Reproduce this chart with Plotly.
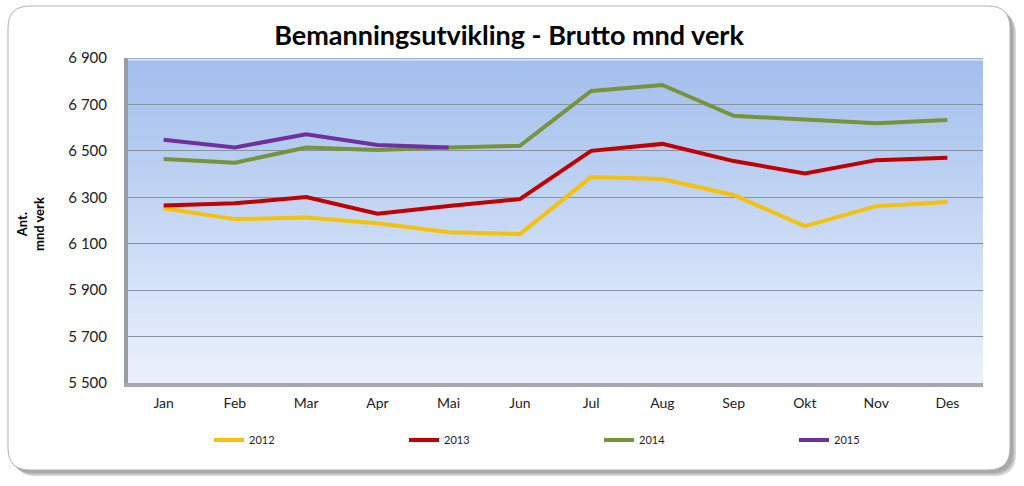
import plotly.graph_objects as go

months = ["Jan", "Feb", "Mar", "Apr", "Mai", "Jun", "Jul", "Aug", "Sep", "Okt", "Nov", "Des"]
v2012 = [6253, 6206, 6213, 6188, 6149, 6142, 6387, 6379, 6310, 6176, 6262, 6280]
v2013 = [6265, 6274, 6301, 6229, 6262, 6292, 6500, 6530, 6456, 6403, 6460, 6470]
v2014 = [6465, 6449, 6514, 6504, 6514, 6522, 6758, 6784, 6651, 6633, 6619, 6633]
v2015 = [6548, 6515, 6571, 6525, 6514]
yticks = [5500, 5700, 5900, 6100, 6300, 6500, 6700, 6900]

W, H = 1024, 486
L, R, T, B = 128, 983, 58, 383

def px(x):
    return (x - L) / (R - L)

def py(y):
    return (B - y) / (B - T)

FONT = "Lato"

fig = go.Figure()
series = [("2012", v2012, "#F4C20D"), ("2013", v2013, "#C00000"),
          ("2014", v2014, "#77933C"), ("2015", v2015, "#7030A0")]
for name, vals, col in series:
    fig.add_trace(go.Scatter(x=months[:len(vals)], y=vals, name=name, mode="lines",
                             line=dict(color=col, width=4)))

shapes = []

def rrect(x0, y0, x1, y1, r):
    rx = r / (R - L)
    ry = r / (B - T)
    a0, a1 = px(x0), px(x1)
    b0, b1 = py(y1), py(y0)  # b0 bottom, b1 top
    return (f"M {a0+rx},{b1} L {a1-rx},{b1} Q {a1},{b1} {a1},{b1-ry} "
            f"L {a1},{b0+ry} Q {a1},{b0} {a1-rx},{b0} L {a0+rx},{b0} "
            f"Q {a0},{b0} {a0},{b0+ry} L {a0},{b1-ry} Q {a0},{b1} {a0+rx},{b1} Z")

# shadow
for i, c in enumerate(["#d8d8d8", "#bcbcbc", "#a8a8a8"]):
    off = 6 - i * 1.5
    shapes.append(dict(type="path", xref="paper", yref="paper", layer="below",
                       path=rrect(8 + off, 6 + off, 1010 + off, 470 + off, 22),
                       fillcolor=c, line=dict(width=0)))
shapes.append(dict(type="path", xref="paper", yref="paper", layer="below",
                   path=rrect(8, 6, 1010, 470, 22),
                   fillcolor="white", line=dict(color="#b0b0b0", width=1)))

# plot area gradient (overlapping strips to avoid seams)
top = (162, 190, 236)
bot = (234, 241, 252)
n = 65
for i in range(n):
    t = i / (n - 1)
    c = tuple(int(round(top[k] + (bot[k] - top[k]) * t)) for k in range(3))
    shapes.append(dict(type="rect", xref="paper", yref="paper", layer="below",
                       x0=0, x1=1, y0=max(0, 1 - (i + 1.6) / n), y1=1 - i / n,
                       fillcolor=f"rgb{c}", line=dict(width=0)))
# bevel edges
shapes.append(dict(type="rect", xref="paper", yref="paper", layer="below",
                   x0=px(L - 4), x1=0, y0=py(B + 4), y1=1,
                   fillcolor="#9a9ca4", line=dict(width=0)))
shapes.append(dict(type="rect", xref="paper", yref="paper", layer="below",
                   x0=px(L - 4), x1=1, y0=py(B + 4), y1=0,
                   fillcolor="#a6a8b0", line=dict(width=0)))
shapes.append(dict(type="rect", xref="paper", yref="paper", layer="below",
                   x0=0, x1=1, y0=py(T + 3), y1=1,
                   fillcolor="#cadcf4", line=dict(width=0)))
shapes.append(dict(type="rect", xref="paper", yref="paper", layer="below",
                   x0=0, x1=1, y0=py(T + 1), y1=1,
                   fillcolor="#9fb6d8", line=dict(width=0)))

fig.update_layout(
    width=W, height=H,
    margin=dict(l=L, r=W - R, t=T, b=H - B, autoexpand=False),
    paper_bgcolor="white", plot_bgcolor="rgba(0,0,0,0)",
    separators=", ",
    shapes=shapes,
    showlegend=True,
    title=dict(text="<b>Bemanningsutvikling - Brutto mnd verk</b>", x=px(509), xanchor="center",
               xref="paper", y=1 - 36 / H, yanchor="middle",
               font=dict(family=FONT, size=27, color="black")),
    legend=dict(orientation="h", x=px(209), xanchor="left", y=py(440), yanchor="middle",
                entrywidth=150, entrywidthmode="pixels", bgcolor="rgba(0,0,0,0)",
                font=dict(family=FONT, size=11, color="#222")),
    annotations=[dict(text="<b>Ant.<br>mnd verk</b>", textangle=-90, xref="paper", yref="paper",
                      x=px(30), y=py(224), xanchor="center", yanchor="middle", showarrow=False,
                      font=dict(family=FONT, size=13, color="black"))],
)
fig.update_xaxes(type="category", categoryorder="array", categoryarray=months,
                 range=[-0.5, 11.5],
                 showgrid=False, showline=False, ticks="", ticklabelstandoff=10,
                 tickfont=dict(family=FONT, size=14, color="#222"), fixedrange=True)
fig.update_yaxes(range=[5500, 6900], tickvals=yticks, tickformat=",d",
                 showgrid=True, gridcolor="#8a92a0", gridwidth=1, zeroline=False,
                 showline=False, ticks="", ticklabelstandoff=20,
                 tickfont=dict(family=FONT, size=15, color="#222"), fixedrange=True)

fig.write_html("out.html", config={"displayModeBar": False},
               post_script="document.body.style.margin='0';document.body.style.padding='0';")
